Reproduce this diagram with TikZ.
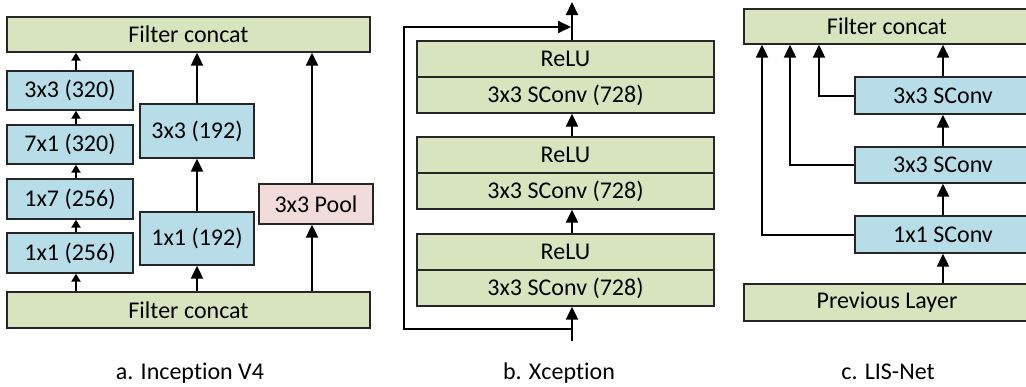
\documentclass[tikz,border=0pt]{standalone}
\usepackage{fontspec}
\setmainfont{Carlito}[Ligatures=NoCommon]
\usetikzlibrary{arrows.meta}
\definecolor{cgreen}{HTML}{D7E4BD}
\definecolor{cblue}{HTML}{B7DEE8}
\definecolor{cpink}{HTML}{F2DCDB}
\begin{document}
\begin{tikzpicture}[x=1pt,y=-1pt,
  box/.style={draw=black!85,line width=1.3pt,inner sep=0pt,font=\fontsize{24}{28}\selectfont},
  gbox/.style={box,fill=cgreen},
  bbox/.style={box,fill=cblue},
  pbox/.style={box,fill=cpink},
  arr/.style={line width=2pt,-{Triangle[length=13pt,width=12pt]}},
  sarr/.style={line width=2pt,-{Triangle[length=8pt,width=9pt]}},
  captext/.style={anchor=base,inner sep=0pt,font=\fontsize{24}{28}\selectfont}]
\useasboundingbox (0,0) rectangle (1026,386);
\clip (0,0) rectangle (1026,386);
% ---------- a. Inception V4
\node[gbox,minimum width=363pt,minimum height=35pt] (atop) at (188.5,34.5) {Filter concat};
\node[gbox,minimum width=363pt,minimum height=36pt] (abot) at (188.5,310) {Filter concat};
\node[bbox,minimum width=126pt,minimum height=39pt] (L4) at (70,90.5) {3x3 (320)};
\node[bbox,minimum width=126pt,minimum height=39pt] (L3) at (70,144.5) {7x1 (320)};
\node[bbox,minimum width=126pt,minimum height=40pt] (L2) at (70,199) {1x7 (256)};
\node[bbox,minimum width=126pt,minimum height=40pt] (L1) at (70,253) {1x1 (256)};
\node[bbox,minimum width=114pt,minimum height=54pt] (M2) at (197,131) {3x3 (192)};
\node[bbox,minimum width=114pt,minimum height=53pt] (M1) at (197,238.5) {1x1 (192)};
\node[pbox,minimum width=114pt,minimum height=40pt] (P) at (316,204) {3x3 Pool};
\coordinate (ca) at (76,0);
\coordinate (cm) at (197,0);
\coordinate (cp) at (312,0);
\draw[sarr] (abot.north -| ca) -- (L1.south -| ca);
\draw[sarr] (L1.north -| ca) -- (L2.south -| ca);
\draw[sarr] (L2.north -| ca) -- (L3.south -| ca);
\draw[sarr] (L3.north -| ca) -- (L4.south -| ca);
\draw[sarr] (L4.north -| ca) -- (atop.south -| ca);
\draw[arr] (abot.north -| cm) -- (M1.south -| cm);
\draw[arr] (M1.north -| cm) -- (M2.south -| cm);
\draw[arr] (M2.north -| cm) -- (atop.south -| cm);
\draw[arr] (abot.north -| cp) -- (P.south -| cp);
\draw[arr] (P.north -| cp) -- (atop.south -| cp);
% ---------- b. Xception
\node[gbox,minimum width=297pt,minimum height=36pt] (R1) at (565.5,59) {ReLU};
\node[gbox,minimum width=297pt,minimum height=36pt] (S1x) at (565.5,95) {3x3 SConv (728)};
\node[gbox,minimum width=297pt,minimum height=36pt] (R2) at (565.5,155) {ReLU};
\node[gbox,minimum width=297pt,minimum height=36pt] (S2x) at (565.5,191) {3x3 SConv (728)};
\node[gbox,minimum width=297pt,minimum height=36pt] (R3) at (565.5,252) {ReLU};
\node[gbox,minimum width=297pt,minimum height=36pt] (S3x) at (565.5,288) {3x3 SConv (728)};
\coordinate (cx) at (572,0);
\coordinate (xin) at (572,341);
\coordinate (sk) at (572,329);
\coordinate (xout) at (572,2);
\coordinate (skl) at (404,0);
\coordinate (skt) at (572,27);
\draw[arr] (xin) -- (S3x.south -| cx);
\draw[arr] (R3.north -| cx) -- (S2x.south -| cx);
\draw[arr] (R2.north -| cx) -- (S1x.south -| cx);
\draw[arr] (R1.north -| cx) -- (xout);
\draw[arr] (sk) -- (sk -| skl) -- (skt -| skl) -- ([xshift=-1pt]skt);
% ---------- c. LIS-Net
\node[gbox,minimum width=286pt,minimum height=35pt] (ccat) at (887,26.5) {Filter concat};
\node[gbox,minimum width=286pt,minimum height=37pt] (prev) at (887,302.5) {Previous Layer};
\node[bbox,minimum width=176pt,minimum height=37pt] (C3) at (943,95.5) {3x3 SConv};
\node[bbox,minimum width=176pt,minimum height=36pt] (C2) at (943,165) {3x3 SConv};
\node[bbox,minimum width=176pt,minimum height=37pt] (C1) at (943,234.5) {1x1 SConv};
\draw[arr] (prev.north -| C1.south) -- (C1.south);
\draw[arr] (C1.north) -- (C2.south);
\draw[arr] (C2.north) -- (C3.south);
\draw[arr] (C3.north) -- (ccat.south -| C3.north);
\coordinate (s1) at (762,0);
\coordinate (s2) at (790,0);
\coordinate (s3) at (819,0);
\draw[arr] (C1.west) -- (C1.west -| s1) -- (ccat.south -| s1);
\draw[arr] (C2.west) -- (C2.west -| s2) -- (ccat.south -| s2);
\draw[arr] (C3.west) -- (C3.west -| s3) -- (ccat.south -| s3);
% ---------- captions
\node[captext] (capa) at (190,379) {a. Inception V4};
\node[captext] (capb) at (559,379) {b. Xception};
\node[captext] (capc) at (888,379) {c. LIS-Net};
\end{tikzpicture}
\end{document}
